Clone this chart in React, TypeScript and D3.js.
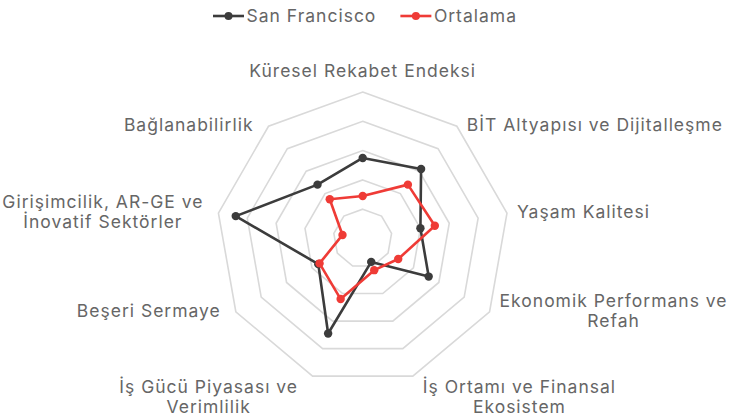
import React, { useEffect, useRef } from "react";
import * as d3 from "d3";

const categories: string[][] = [
  ["Küresel Rekabet Endeksi"],
  ["BİT Altyapısı ve Dijitalleşme"],
  ["Yaşam Kalitesi"],
  ["Ekonomik Performans ve", "Refah"],
  ["İş Ortamı ve Finansal", "Ekosistem"],
  ["İş Gücü Piyasası ve", "Verimlilik"],
  ["Beşeri Sermaye"],
  ["Girişimcilik, AR-GE ve", "İnovatif Sektörler"],
  ["Bağlanabilirlik"],
];

const sanFrancisco: number[] = [55, 62, 40, 52, 17, 69, 35, 88, 48];
const ortalama: number[] = [29, 48, 50, 28, 23, 44, 34, 14, 35];
const gridLevels: number[] = [20, 40, 60, 80, 100];
const seriesNames: string[] = ["San Francisco", "Ortalama"];
const seriesColors: string[] = ["#3c3c3c", "#ef3b36"];

const W = 739;
const H = 420;
const CX = 362.7;
const CY = 238.5;
const R = 146.5;
const FONT = "Inter, 'Open Sans', sans-serif";
const FS = 17.5;
const LS = 1.0;
const LH = 20.5;
const TEXT = "#666666";
const LEGEND_CX = 365;

export default function App() {
  const ref = useRef<SVGSVGElement | null>(null);

  useEffect(() => {
    const svg = d3.select(ref.current);
    svg.selectAll("*").remove();
    const n = categories.length;
    const r = d3.scaleLinear().domain([0, 100]).range([0, R]);
    const angle = d3
      .scaleLinear()
      .domain([0, n])
      .range([-Math.PI / 2, (3 * Math.PI) / 2]);
    const pt = (i: number, v: number): [number, number] => [
      CX + r(v) * Math.cos(angle(i)),
      CY + r(v) * Math.sin(angle(i)),
    ];

    const g = svg.append("g");
    gridLevels.forEach((lv) => {
      const pts = d3.range(n).map((i) => pt(i, lv));
      g.append("path")
        .attr("d", d3.line().curve(d3.curveLinearClosed)(pts) as string)
        .attr("fill", "none")
        .attr("stroke", "#d9d9d9")
        .attr("stroke-width", 1.6);
    });

    const allSeries = [sanFrancisco, ortalama];
    allSeries.forEach((vals, si) => {
      const pts = vals.map((v, i) => pt(i, v));
      g.append("path")
        .attr("d", d3.line().curve(d3.curveLinearClosed)(pts) as string)
        .attr("fill", "none")
        .attr("stroke", seriesColors[si])
        .attr("stroke-width", 2.6)
        .attr("stroke-linejoin", "round");
      g.selectAll(null)
        .data(pts)
        .enter()
        .append("circle")
        .attr("cx", (d) => d[0])
        .attr("cy", (d) => d[1])
        .attr("r", 4.2)
        .attr("fill", seriesColors[si]);
    });

    categories.forEach((lines, i) => {
      const a = angle(i);
      const [vx, vy] = pt(i, 100);
      const c = Math.cos(a);
      const s = Math.sin(a);
      const t = g
        .append("text")
        .attr("font-family", FONT)
        .attr("font-size", FS)
        .attr("letter-spacing", LS)
        .attr("fill", TEXT);
      const spans = lines.map((ln) => t.append("tspan").text(ln));
      const widths = spans.map((sp) => (sp.node() as SVGTSpanElement).getComputedTextLength());
      const bw = Math.max(...widths);
      let cxText: number;
      if (Math.abs(c) < 0.05) cxText = vx;
      else if (c > 0) cxText = vx + 10 + bw / 2;
      else cxText = vx - 15 - bw / 2;
      let firstBase: number;
      const nl = lines.length;
      if (s < -0.9) firstBase = vy - 15 - (nl - 1) * LH;
      else if (s > 0.9) firstBase = vy + 16.5;
      else firstBase = vy - 1 - ((nl - 1) * LH) / 2 + 6;
      spans.forEach((sp, k) => {
        sp.attr("x", cxText)
          .attr("y", firstBase + k * LH)
          .attr("text-anchor", "middle");
      });
    });

    const legend = svg.append("g");
    const items = seriesNames.map((name, si) => {
      const gi = legend.append("g");
      gi.append("line")
        .attr("x1", 0)
        .attr("x2", 31)
        .attr("y1", 0)
        .attr("y2", 0)
        .attr("stroke", seriesColors[si])
        .attr("stroke-width", 2.6);
      gi.append("circle").attr("cx", 15.5).attr("cy", 0).attr("r", 4).attr("fill", seriesColors[si]);
      const tx = gi
        .append("text")
        .attr("x", 33.5)
        .attr("y", 6)
        .attr("font-family", FONT)
        .attr("font-size", FS)
        .attr("letter-spacing", LS)
        .attr("fill", TEXT)
        .text(name);
      const w = 33.5 + (tx.node() as SVGTextElement).getComputedTextLength();
      return { gi, w };
    });
    const gap = 24;
    const total = items.reduce((acc, it) => acc + it.w, 0) + gap * (items.length - 1);
    let x0 = LEGEND_CX - total / 2;
    items.forEach((it) => {
      it.gi.attr("transform", `translate(${x0},16)`);
      x0 += it.w + gap;
    });
  }, []);

  return (
    <svg
      ref={ref}
      width={W}
      height={H}
      style={{ position: "fixed", left: 0, top: 0, background: "#fff" }}
    />
  );
}
